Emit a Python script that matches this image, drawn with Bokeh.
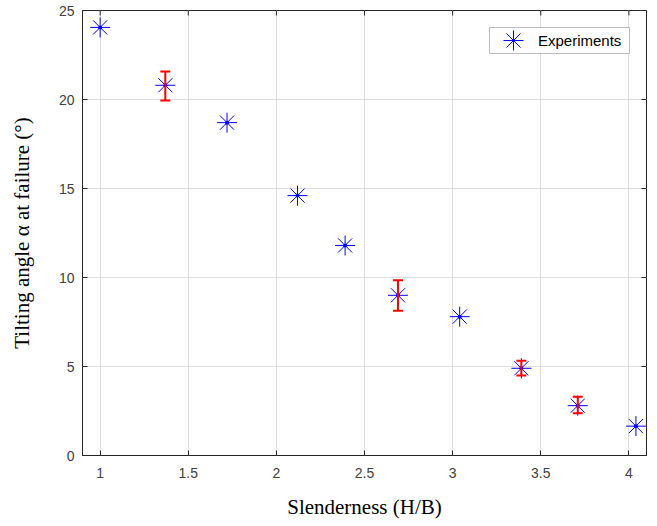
import math
from bokeh.plotting import figure
from bokeh.models import (ColumnDataSource, Whisker, TeeHead, LinearAxis, Legend,
                          LegendItem, FixedTicker, BoxAnnotation)
from bokeh.embed import file_html
from bokeh.resources import INLINE

# ---- data ----
slenderness = [1.00, 1.37, 1.72, 2.12, 2.39, 2.69, 3.04, 3.39, 3.71, 4.04]
tilt_angle = [24.05, 20.8, 18.7, 14.6, 11.8, 9.0, 7.8, 4.9, 2.8, 1.65]
err_x = [1.37, 2.69, 3.39, 3.71]
err_low = [19.95, 8.13, 4.5, 2.38]
err_high = [21.57, 9.85, 5.33, 3.3]
x_ticks = [1, 1.5, 2, 2.5, 3, 3.5, 4]
y_ticks = [0, 5, 10, 15, 20, 25]
x_min, x_max = 0.9, 4.1
y_min, y_max = 0, 25

AX = "#262626"

p = figure(width=652, height=525, x_range=(x_min, x_max), y_range=(y_min, y_max),
           output_backend="svg", toolbar_location=None,
           min_border_left=82, min_border_right=6, min_border_top=10,
           min_border_bottom=70, x_axis_location=None, y_axis_location=None)
p.background_fill_color = "white"
p.border_fill_color = "white"
p.outline_line_color = AX
p.outline_line_width = 1

def style_axis(ax):
    ax.axis_line_color = AX
    ax.major_tick_line_color = AX
    ax.major_tick_in = 5
    ax.major_tick_out = 0
    ax.minor_tick_line_color = None
    ax.major_label_text_font = "Liberation Sans"
    ax.major_label_text_font_size = "14px"
    ax.major_label_text_color = "#404040"
    ax.axis_label_text_font = "Liberation Serif"
    ax.axis_label_text_font_style = "normal"
    ax.axis_label_text_font_size = "21px"
    ax.axis_label_text_color = "black"

xb = LinearAxis(ticker=FixedTicker(ticks=x_ticks), axis_label="Slenderness (H/B)")
style_axis(xb)
xb.major_label_standoff = 12
xb.axis_label_standoff = 14
p.add_layout(xb, "below")

yl = LinearAxis(ticker=FixedTicker(ticks=y_ticks), axis_label="Tilting angle α at failure (°)")
style_axis(yl)
yl.major_label_standoff = 8
yl.axis_label_standoff = 22
p.add_layout(yl, "left")

# inward ticks on the top and right edges of the box
p.ray(x=x_ticks, y=[y_max] * len(x_ticks), length=5, length_units="screen",
      angle=-math.pi / 2, line_color=AX, line_width=1)
p.ray(x=[x_max] * len(y_ticks), y=y_ticks, length=5, length_units="screen",
      angle=math.pi, line_color=AX, line_width=1)

p.xgrid.ticker = FixedTicker(ticks=x_ticks)
p.ygrid.ticker = FixedTicker(ticks=y_ticks)
for g in (p.xgrid, p.ygrid):
    g.grid_line_color = "#dedede"
    g.grid_line_width = 1

src = ColumnDataSource(dict(x=slenderness, y=tilt_angle))
r_ast = p.scatter("x", "y", source=src, marker="asterisk", size=20,
                  line_color="#0000ff", line_width=1)
r_dot = p.scatter("x", "y", source=src, marker="circle", size=4,
                  fill_color="#0000ff", line_color=None)

esrc = ColumnDataSource(dict(x=err_x, lo=err_low, hi=err_high))
wh = Whisker(base="x", lower="lo", upper="hi", source=esrc, dimension="height",
             line_color="#ff0000", line_width=2, level="annotation",
             upper_head=TeeHead(size=10, line_color="#ff0000", line_width=2),
             lower_head=TeeHead(size=10, line_color="#ff0000", line_width=2))
p.add_layout(wh)

box = BoxAnnotation(left=407, right=547, top=428, bottom=402,
                    left_units="screen", right_units="screen",
                    top_units="screen", bottom_units="screen",
                    fill_color="white", fill_alpha=1.0,
                    line_color=AX, line_width=1, level="annotation")
p.add_layout(box)

leg = Legend(items=[LegendItem(label="Experiments", renderers=[r_ast])],
             location=(406, 390), margin=0, padding=0, spacing=0,
             glyph_width=50, glyph_height=50, label_standoff=0,
             label_text_font="Liberation Sans", label_text_font_size="15px",
             label_text_color="black",
             border_line_color=None, background_fill_alpha=0)
p.add_layout(leg, "center")

open("out.html", "w").write(file_html(p, INLINE))
